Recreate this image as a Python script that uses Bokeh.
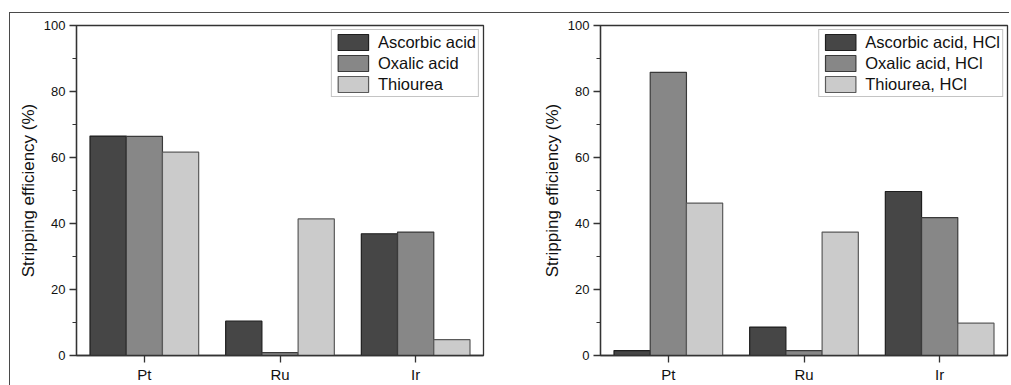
from bokeh.plotting import figure
from bokeh.models import FactorRange, ColumnDataSource, Legend, LegendItem, Range1d, FixedTicker
from bokeh.transform import dodge
from bokeh.layouts import row
from bokeh.embed import file_html
from bokeh.resources import INLINE

metals = ["Pt", "Ru", "Ir"]

left_series = ["Ascorbic acid", "Oxalic acid", "Thiourea"]
left_ascorbic = [66.5, 10.4, 36.9]
left_oxalic = [66.4, 0.9, 37.4]
left_thiourea = [61.6, 41.4, 4.8]

right_series = ["Ascorbic acid, HCl", "Oxalic acid, HCl", "Thiourea, HCl"]
right_ascorbic = [1.5, 8.6, 49.7]
right_oxalic = [85.8, 1.5, 41.8]
right_thiourea = [46.2, 37.4, 9.8]

y_ticks = [0, 20, 40, 60, 80, 100]
y_label = "Stripping efficiency (%)"

fills = ["#464646", "#878787", "#cbcbcb"]
lines = ["#1e1e1e", "#3a3a3a", "#5a5a5a"]
FONT = "Liberation Sans"


def make_panel(names, series, width, mbl, mbr):
    p = figure(x_range=FactorRange(factors=metals, range_padding=0),
               y_range=Range1d(0, 100),
               width=width, height=372, output_backend="svg", toolbar_location=None,
               min_border_left=mbl, min_border_right=mbr, min_border_top=12, min_border_bottom=30)
    data = {"metal": metals}
    for i, vals in enumerate(series):
        data["s%d" % i] = vals
    src = ColumnDataSource(data)
    offsets = [-0.267, 0.0, 0.267]
    items = []
    for i, name in enumerate(names):
        r = p.vbar(x=dodge("metal", offsets[i], range=p.x_range), top="s%d" % i, width=0.267,
                   source=src, fill_color=fills[i], line_color=lines[i], line_width=1.2)
        items.append(LegendItem(label=name, renderers=[r]))
    leg = Legend(items=items, location="top_right", margin=4, padding=2, spacing=1,
                 glyph_width=38, glyph_height=20, label_height=20, label_standoff=6,
                 label_text_font=FONT, label_text_font_size="16.5px", label_text_color="#111111",
                 border_line_color="#8a8a8a", border_line_width=1, background_fill_alpha=1)
    p.add_layout(leg)
    p.xgrid.visible = False
    p.ygrid.visible = False
    p.outline_line_color = "#333333"
    p.outline_line_width = 1.3
    for ax in (p.xaxis[0], p.yaxis[0]):
        ax.axis_line_color = "#333333"
        ax.axis_line_width = 1.3
        ax.major_tick_line_color = "#333333"
        ax.major_tick_line_width = 1.3
        ax.minor_tick_line_color = "#333333"
        ax.minor_tick_line_width = 1.2
        ax.major_tick_in = 0
        ax.major_tick_out = 7
        ax.minor_tick_in = 0
        ax.minor_tick_out = 4
        ax.major_label_text_font = FONT
        ax.major_label_text_color = "#111111"
    p.yaxis.ticker = FixedTicker(ticks=y_ticks, minor_ticks=[10, 30, 50, 70, 90])
    p.yaxis.major_label_text_font_size = "13px"
    p.yaxis.major_label_standoff = 4
    p.xaxis.major_label_text_font_size = "15px"
    p.xaxis.major_label_standoff = 3
    p.yaxis.axis_label = y_label
    p.yaxis.axis_label_text_font = FONT
    p.yaxis.axis_label_text_font_style = "normal"
    p.yaxis.axis_label_text_font_size = "17px"
    p.yaxis.axis_label_text_color = "#111111"
    p.yaxis.axis_label_standoff = 3
    return p


p1 = make_panel(left_series, [left_ascorbic, left_oxalic, left_thiourea], 495, 66, 22)
p2 = make_panel(right_series, [right_ascorbic, right_oxalic, right_thiourea], 504, 95, 2)

layout = row(p1, p2, styles={"margin-left": "9px", "margin-top": "12px",
                             "border-left": "1px solid #4a4a4a", "border-top": "1px solid #4a4a4a"})

open("out.html", "w").write(file_html(layout, INLINE))
